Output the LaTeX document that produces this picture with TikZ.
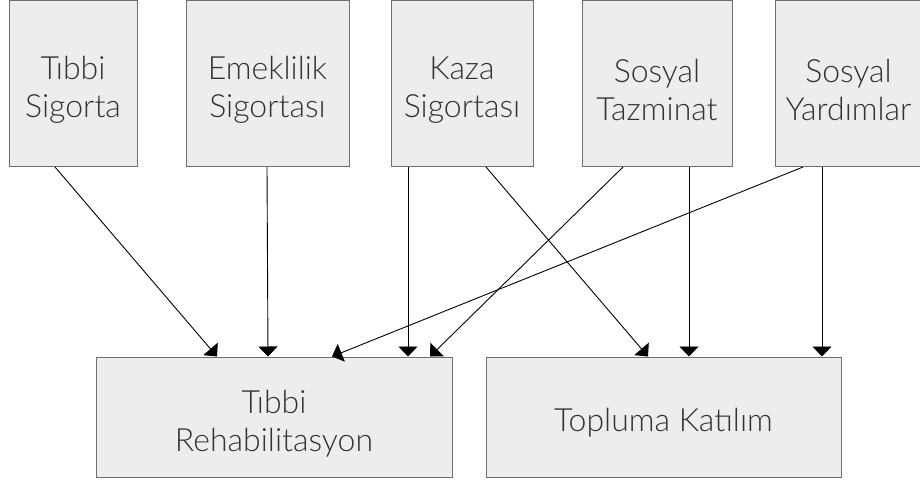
\documentclass[tikz,border=0pt]{standalone}
\usepackage{fontspec}
\setmainfont{Lato}[UprightFont=* Light]
\usetikzlibrary{arrows.meta}
\definecolor{kutudolgu}{HTML}{EDEDED}
\definecolor{kutucizgi}{HTML}{6E6E6E}
\definecolor{yazi}{HTML}{333333}
\newcommand{\ustbosluk}{\rule{0pt}{36pt}}

\begin{document}
\begin{tikzpicture}[x=1pt,y=-1pt,
        kutu/.style={draw=kutucizgi, line width=1pt, fill=kutudolgu, text=yazi, align=center, inner sep=0pt, font=\fontsize{32}{38}\selectfont},
        ok/.style={line width=0.9pt, -{Triangle[width=19pt,length=10pt]}}]
        \useasboundingbox (0,0) rectangle (920,484);
        \node[kutu, minimum width=128, minimum height=166] (ts) at (73,83.5) {\ustbosluk Tıbbi\\Sigorta};
        \node[kutu, minimum width=163, minimum height=166] (es) at (267.5,83.5) {\ustbosluk Emeklilik\\Sigortası};
        \node[kutu, minimum width=142, minimum height=166] (ks) at (462,83.5) {\ustbosluk Kaza\\Sigortası};
        \node[kutu, minimum width=150, minimum height=166] (st) at (657,83.5) {\ustbosluk Sosyal\\Tazminat};
        \node[kutu, minimum width=147, minimum height=166] (sy) at (848.5,83.5) {\ustbosluk Sosyal\\Yardımlar};
        \node[kutu, minimum width=356, minimum height=120] (tr) at (274,417) {\ustbosluk Tıbbi\\Rehabilitasyon};
        \node[kutu, minimum width=355, minimum height=120] (tk) at (663.5,417) {\rule{0pt}{34pt}Topluma Katılım};
        \draw[ok] ([xshift=-18]ts.south) -- ([xshift=-57]tr.north);
        \draw[ok] ([xshift=-0.5]es.south) -- ([xshift=-6]tr.north);
        \draw[ok] ([xshift=-54]ks.south) -- ([xshift=134]tr.north);
        \draw[ok] ([xshift=24]ks.south) -- ([xshift=-15.5]tk.north);
        \draw[ok] ([xshift=-34]st.south) -- ([xshift=156]tr.north);
        \draw[ok] ([xshift=32]st.south) -- ([xshift=25.5]tk.north);
        \draw[ok] ([xshift=-45.5]sy.south) -- ([xshift=58]tr.north);
        \draw[ok] ([xshift=-26.5]sy.south) -- ([xshift=158.5]tk.north);
\end{tikzpicture}
\end{document}
